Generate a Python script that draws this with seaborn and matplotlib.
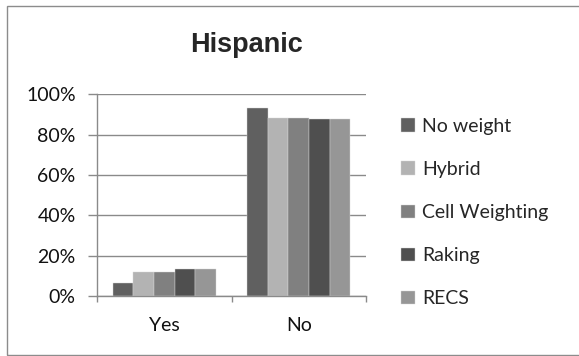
import matplotlib
matplotlib.use("Agg")
import matplotlib.pyplot as plt
from matplotlib.patches import Rectangle
from matplotlib.ticker import FixedLocator, PercentFormatter
import pandas as pd
import seaborn as sns

# Share of respondents by Hispanic origin under each weighting method
responses = ["Yes", "No"]
methods = ["No weight", "Hybrid", "Cell Weighting", "Raking", "RECS"]
yes_share = [6.3, 12.0, 12.0, 13.2, 13.2]
no_share = [93.4, 88.4, 88.4, 87.6, 87.6]
colors = ["#606060", "#b3b3b3", "#808080", "#4f4f4f", "#969696"]
y_ticks = [0, 20, 40, 60, 80, 100]

rows = []
for resp, vals in zip(responses, [yes_share, no_share]):
    for m, v in zip(methods, vals):
        rows.append({"response": resp, "method": m, "share": v})
df = pd.DataFrame(rows)

sns.set_style("white")
plt.rcParams["font.family"] = ["Lato", "DejaVu Sans"]

fig = plt.figure(figsize=(5.79, 3.56), dpi=100)
ax = fig.add_axes([97 / 579, 60 / 356, 269 / 579, 201.7 / 356])

sns.barplot(data=df, x="response", y="share", hue="method", order=responses,
            hue_order=methods, palette=colors, width=0.765, ax=ax,
            edgecolor="#d8d8d8", linewidth=0.3, errorbar=None)

grid_c = "#8a8a8a"
ax.set_ylim(0, 100)
ax.set_xlim(-0.5, 1.5)
ax.yaxis.set_major_locator(FixedLocator(y_ticks))
ax.yaxis.set_major_formatter(PercentFormatter(decimals=0))
ax.grid(axis="y", color=grid_c, linewidth=1.0)
ax.set_axisbelow(True)
for s in ["top", "right"]:
    ax.spines[s].set_visible(False)
for s in ["left", "bottom"]:
    ax.spines[s].set_color(grid_c)
    ax.spines[s].set_linewidth(1.0)

ax.tick_params(axis="y", which="major", length=6.3, width=1.0, color=grid_c,
               pad=9, labelsize=14, labelcolor="#111111", left=True)
ax.set_xticks([-0.5, 0.5, 1.5], minor=True)
ax.tick_params(axis="x", which="minor", length=4.5, width=1.0, color=grid_c,
               bottom=True)
ax.tick_params(axis="x", which="major", length=0, pad=15, labelsize=14,
               labelcolor="#111111")
ax.set_xlabel("")
ax.set_ylabel("")

handles, labels = ax.get_legend_handles_labels()
ax.legend(handles, labels, loc="upper left", bbox_to_anchor=(401 / 579, 1 - 118 / 356),
          bbox_transform=fig.transFigure, frameon=False, fontsize=14,
          handlelength=0.7, handleheight=0.7, handletextpad=0.4,
          labelspacing=1.34, borderaxespad=0, borderpad=0)

fig.text(246 / 579, 1 - 45 / 356, "Hispanic", ha="center", va="center",
         fontsize=19.5, fontweight="bold", family=["Liberation Sans", "DejaVu Sans"])

fig.patches.append(Rectangle((6.5 / 579, 1.5 / 356), 1.5, 348.5 / 356,
                             transform=fig.transFigure, fill=False,
                             edgecolor="#8c8c8c", linewidth=1.0))

fig.savefig("out.png", dpi=100)
